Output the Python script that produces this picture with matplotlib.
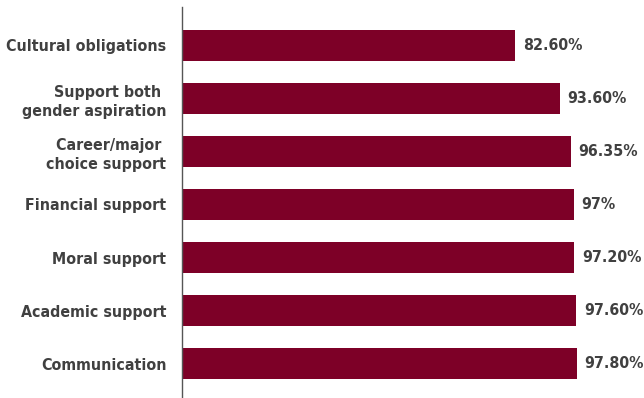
import matplotlib
matplotlib.use("Agg")
import matplotlib.pyplot as plt

plt.rcParams['font.family'] = ['DejaVu Sans']
plt.rcParams['font.stretch'] = 'condensed'

# Categories top to bottom and their percentages
categories = [
    "Cultural obligations",
    "Support both \ngender aspiration",
    "Career/major \nchoice support",
    "Financial support",
    "Moral support",
    "Academic support",
    "Communication",
]
values = [82.60, 93.60, 96.35, 97.00, 97.20, 97.60, 97.80]
value_labels = ["82.60%", "93.60%", "96.35%", "97%", "97.20%", "97.60%", "97.80%"]

bar_color = "#7d0027"
text_color = "#404040"
fsize = 11.4

fig = plt.figure(figsize=(6.44, 3.98), dpi=100)
ax = fig.add_axes([0.2821, 0.0, 0.7179, 0.9817])

pos = list(range(len(categories)))
ax.barh(pos, values, height=0.58, color=bar_color)

for p, v, lab in zip(pos, values, value_labels):
    ax.text(v + 1.9, p, lab, va='center', ha='left', fontsize=fsize,
            fontweight='bold', fontstretch='condensed', color=text_color)

ax.set_yticks(pos)
ax.set_yticklabels(categories, fontsize=fsize, fontweight='bold',
                   fontstretch='condensed', color=text_color, linespacing=1.3)
for t in ax.get_yticklabels():
    t.set_multialignment('right')
ax.tick_params(axis='y', length=0, pad=11)
ax.tick_params(axis='x', bottom=False, labelbottom=False)

ax.set_xlim(0, 114.4)
ax.set_ylim(6.65, -0.72)

for side in ['top', 'right', 'bottom']:
    ax.spines[side].set_visible(False)
ax.spines['left'].set_color('#555555')
ax.spines['left'].set_linewidth(1.0)

fig.savefig("out.png", dpi=100)
